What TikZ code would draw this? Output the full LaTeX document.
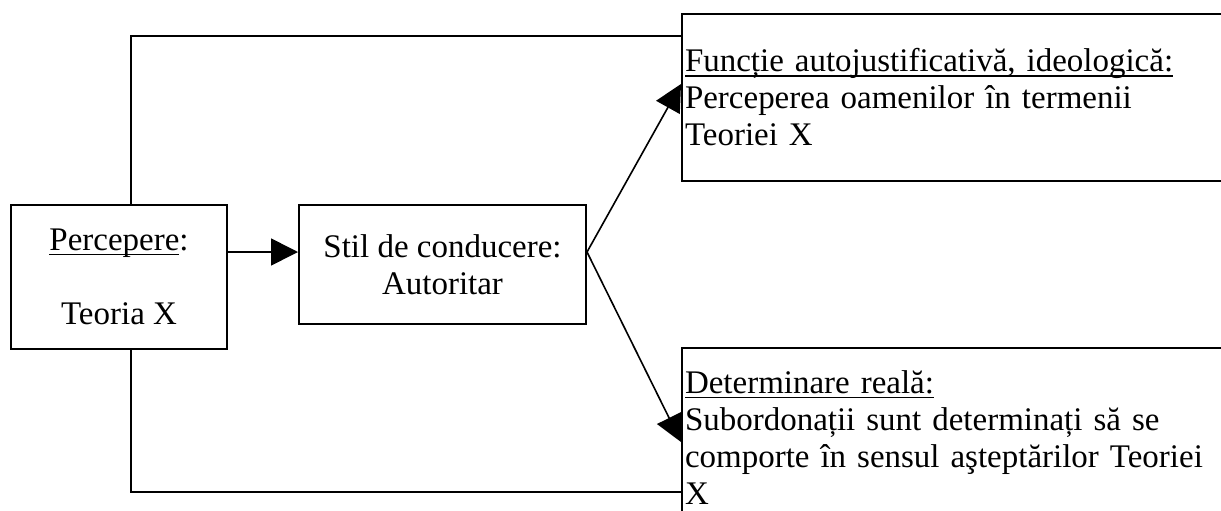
\documentclass[tikz,border=0pt]{standalone}
\usepackage{fontspec}
\setmainfont{Liberation Serif}
\usetikzlibrary{arrows.meta,backgrounds}

% underline at a fixed depth, as the word processor draws it
\newcommand{\ulword}[1]{\setbox0\hbox{#1}\rlap{\rule[-1.8pt]{\wd0}{0.5pt}}\box0}

\begin{document}
\begin{tikzpicture}[x=0.373pt, y=-0.373pt]
    \def\px{0.373pt}

    \tikzset{box/.style={
        draw,
        fill=white,
        line width=0.75pt,
        inner sep=0pt,
        inner xsep=3*\px,
        anchor=north west,
        font=\fontsize{12.3}{13.8}\selectfont
    }}
    \tikzset{arr/.style={
        line width=0.6pt,
        -{Triangle[length=10pt,width=10pt]}
    }}

    \useasboundingbox (0,0) rectangle (1221,510);
    \clip (0,0) rectangle (1221,510);

    % left side
    \node[box, minimum width=216*\px, minimum height=144*\px, align=center] (perc) at (10,204)
        {\ulword{Percepere}:\\[13.8pt]Teoria X};
    \node[box, minimum width=287*\px, minimum height=119*\px, align=center] (stil) at (298,204)
        {Stil de conducere:\\Autoritar};

    % right side
    \node[box, minimum width=560*\px, minimum height=167*\px, text width=554*\px, align=left] (func) at (681,13)
        {\ulword{Funcție autojustificativă, ideologică:}\\Perceperea oamenilor în termenii\\Teoriei X};
    \node[box, minimum width=560*\px, minimum height=179*\px, text width=554*\px, align=left] (det) at (681,347)
        {\ulword{Determinare reală:}\\Subordonații sunt determinați să se\\comporte în sensul aşteptărilor Teoriei\\X};

    \coordinate (fork) at ([yshift=-48*\px]stil.north east);
    \coordinate (tipf) at ([yshift=-71*\px]func.north west);
    \coordinate (tipd) at ([yshift=-95*\px]det.north west);

    % connectors
    \begin{pgfonlayer}{background}
    \draw[arr] (perc.east |- fork) -- (stil.west |- fork);
    \draw[arr] (fork) -- (tipf);
    \draw[arr] (fork) -- (tipd);
    \draw[line width=0.75pt] ([xshift=12*\px]perc.north) |- ([yshift=-23*\px]func.north west);
    \draw[line width=0.75pt] ([xshift=12*\px]perc.south) |- ([yshift=-145*\px]det.north west);
    \end{pgfonlayer}

\end{tikzpicture}
\end{document}
